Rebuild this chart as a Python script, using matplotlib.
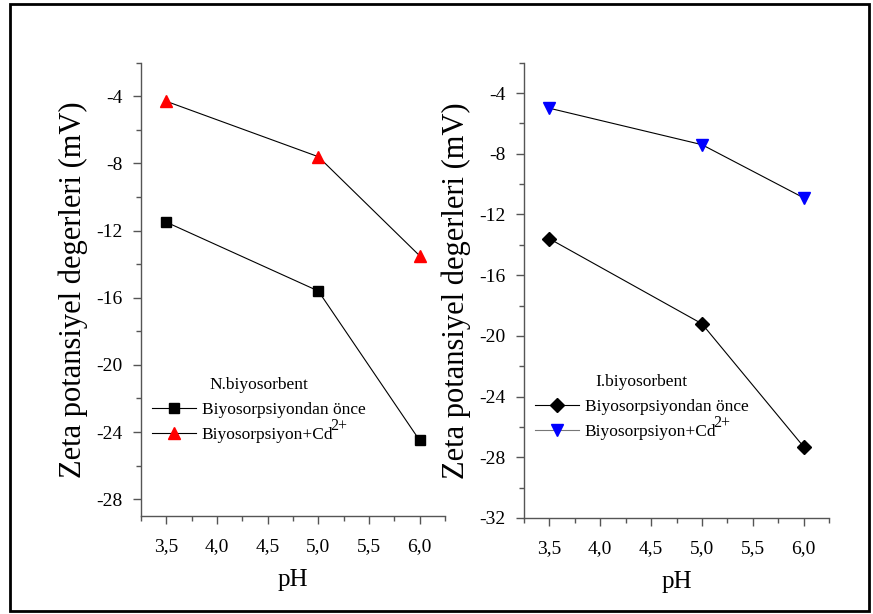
import matplotlib
matplotlib.use("Agg")
import matplotlib.pyplot as plt
from matplotlib.ticker import MultipleLocator, FuncFormatter
from matplotlib.patches import Rectangle

plt.rcParams['font.family'] = ['Liberation Serif', 'DejaVu Serif']
plt.rcParams['axes.unicode_minus'] = False

# --- data ---
ph = [3.5, 5.0, 6.0]

# N.biyosorbent
n_before = [-11.5, -15.6, -24.5]
n_cd = [-4.3, -7.6, -13.5]

# I.biyosorbent
i_before = [-13.6, -19.2, -27.3]
i_cd = [-5.0, -7.4, -10.9]

ylabel = 'Zeta potansiyel degerleri (mV)'
lbl_before = 'Biyosorpsiyondan önce'
lbl_cd = 'Biyosorpsiyon+Cd'
cd_charge = '2+'

fig = plt.figure(figsize=(8.73, 6.14), dpi=100)

# frame round the whole picture
fig.patches.append(Rectangle((10 / 873, 3 / 614), 859 / 873, 607 / 614,
                             transform=fig.transFigure, fill=False,
                             edgecolor='black', linewidth=2))

ax1 = fig.add_axes([141 / 873, 1 - 516 / 614, 304 / 873, 453.3 / 614])
ax2 = fig.add_axes([524 / 873, 1 - 518 / 614, 305 / 873, 455.3 / 614])

comma = FuncFormatter(lambda v, p: f"{v:.1f}".replace('.', ','))

def style(ax, ymin):
    for s in ['top', 'right']:
        ax.spines[s].set_visible(False)
    for s in ['left', 'bottom']:
        ax.spines[s].set_color('#555555')
        ax.spines[s].set_linewidth(1.0)
    ax.set_xlim(3.25, 6.25)
    ax.set_ylim(ymin, -2)
    ax.xaxis.set_major_locator(MultipleLocator(0.5))
    ax.xaxis.set_minor_locator(MultipleLocator(0.25))
    ax.yaxis.set_major_locator(MultipleLocator(4))
    ax.yaxis.set_minor_locator(MultipleLocator(2))
    ax.xaxis.set_major_formatter(comma)
    ax.yaxis.set_major_formatter(FuncFormatter(lambda v, p: f"{v:.0f}"))
    ax.tick_params(which='major', length=6, width=1, color='#555555',
                   labelsize=14, pad=7)
    ax.tick_params(axis='x', which='major', pad=10)
    ax.tick_params(which='minor', length=3.5, width=1, color='#555555')
    ax.set_xlabel('pH', fontsize=18, labelpad=10)
    ax.set_ylabel(ylabel, fontsize=22, labelpad=6)

style(ax1, -29)
style(ax2, -32)

ax1.plot(ph, n_before, color='black', lw=0.8, marker='s', ms=7,
         mfc='black', mec='black', label=lbl_before)
ax1.plot(ph, n_cd, color='black', lw=0.8, marker='^', ms=9,
         mfc='red', mec='red', label=lbl_cd)

ax2.plot(ph, i_before, color='black', lw=0.8, marker='D', ms=7,
         mfc='black', mec='black', label=lbl_before)
ax2.plot(ph, i_cd, color='black', lw=0.8, marker='v', ms=9,
         mfc='blue', mec='blue', label=lbl_cd)

leg_kw = dict(loc='upper left', bbox_transform=fig.transFigure,
              frameon=False, fontsize=12.5, title_fontsize=12.5,
              handlelength=2.5, handletextpad=0.35, labelspacing=0.5,
              borderpad=0.2)
leg1 = ax1.legend(title='N.biyosorbent',
                  bbox_to_anchor=(140 / 873, 1 - 365 / 614), **leg_kw)
leg2 = ax2.legend(title='I.biyosorbent',
                  bbox_to_anchor=(523 / 873, 1 - 362 / 614), **leg_kw)
leg2.get_lines()[1].set_color('#777777')

# large superscript charge right after "Cd", as in the original
fig.canvas.draw()
inv = fig.transFigure.inverted()
for leg in (leg1, leg2):
    bb = leg.get_texts()[1].get_window_extent()
    x0, y0 = inv.transform((bb.x1 - 3, bb.y1 - 3))
    fig.text(x0, y0, cd_charge, fontsize=11.5, ha='left', va='baseline')

fig.savefig('out.png', dpi=100)
